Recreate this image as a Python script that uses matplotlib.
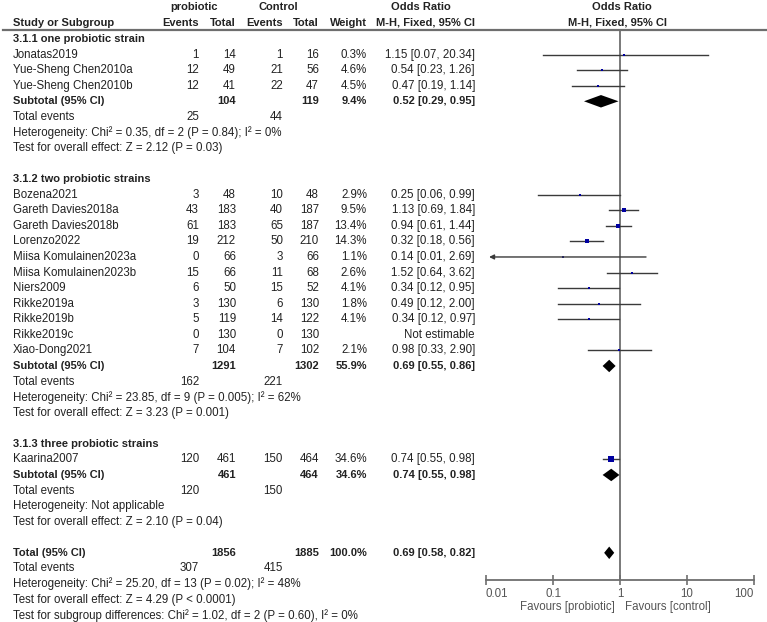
import matplotlib.pyplot as plt
import numpy as np

# ---- data ----
group_titles = ["3.1.1 one probiotic strain", "3.1.2 two probiotic strains",
                "3.1.3 three probiotic strains"]

names = [
    ["Jonatas2019", "Yue-Sheng Chen2010a", "Yue-Sheng Chen2010b"],
    ["Bozena2021", "Gareth Davies2018a", "Gareth Davies2018b", "Lorenzo2022",
     "Miisa Komulainen2023a", "Miisa Komulainen2023b", "Niers2009",
     "Rikke2019a", "Rikke2019b", "Rikke2019c", "Xiao-Dong2021"],
    ["Kaarina2007"],
]
ev_pro = [[1, 12, 12], [3, 43, 61, 19, 0, 15, 6, 3, 5, 0, 7], [120]]
tot_pro = [[14, 49, 41], [48, 183, 183, 212, 66, 66, 50, 130, 119, 130, 104], [461]]
ev_ctl = [[1, 21, 22], [10, 40, 65, 50, 3, 11, 15, 6, 14, 0, 7], [150]]
tot_ctl = [[16, 56, 47], [48, 187, 187, 210, 66, 68, 52, 130, 122, 130, 102], [464]]
weight = [[0.3, 4.6, 4.5], [2.9, 9.5, 13.4, 14.3, 1.1, 2.6, 4.1, 1.8, 4.1, None, 2.1], [34.6]]
odds = [[1.15, 0.54, 0.47], [0.25, 1.13, 0.94, 0.32, 0.14, 1.52, 0.34, 0.49, 0.34, None, 0.98], [0.74]]
ci_lo = [[0.07, 0.23, 0.19], [0.06, 0.69, 0.61, 0.18, 0.01, 0.64, 0.12, 0.12, 0.12, None, 0.33], [0.55]]
ci_hi = [[20.34, 1.26, 1.14], [0.99, 1.84, 1.44, 0.56, 2.69, 3.62, 0.95, 2.00, 0.97, None, 2.90], [0.98]]

sub_tot_pro = [104, 1291, 461]
sub_tot_ctl = [119, 1302, 464]
sub_weight = [9.4, 55.9, 34.6]
sub_or = [0.52, 0.69, 0.74]
sub_lo = [0.29, 0.55, 0.55]
sub_hi = [0.95, 0.86, 0.98]
sub_ev_pro = [25, 162, 120]
sub_ev_ctl = [44, 221, 150]
sub_het = ["Heterogeneity: Chi\u00b2 = 0.35, df = 2 (P = 0.84); I\u00b2 = 0%",
           "Heterogeneity: Chi\u00b2 = 23.85, df = 9 (P = 0.005); I\u00b2 = 62%",
           "Heterogeneity: Not applicable"]
sub_test = ["Test for overall effect: Z = 2.12 (P = 0.03)",
            "Test for overall effect: Z = 3.23 (P = 0.001)",
            "Test for overall effect: Z = 2.10 (P = 0.04)"]

total_tot = [1856, 1885]
total_ev = [307, 415]
total_or, total_lo, total_hi = 0.69, 0.58, 0.82
total_lines = ["Heterogeneity: Chi\u00b2 = 25.20, df = 13 (P = 0.02); I\u00b2 = 48%",
               "Test for overall effect: Z = 4.29 (P < 0.0001)",
               "Test for subgroup differences: Chi\u00b2 = 1.02, df = 2 (P = 0.60), I\u00b2 = 0%"]

xticks = [0.01, 0.1, 1, 10, 100]
xticklabels = ["0.01", "0.1", "1", "10", "100"]

# ---- layout ----
W, H = 767, 622
ROW0, STEP = 39.0, 15.57          # pixel y of row 0, row spacing
def px2row(p):
    return (p - ROW0) / STEP

plt.rcParams['font.family'] = ['Liberation Sans', 'DejaVu Sans']
FS = 8.3      # regular text
FSB = 8.0     # bold text
TXT = '#222222'
GREY = '#6e6e6e'

fig = plt.figure(figsize=(W / 100, H / 100), dpi=100)
ax_t = fig.add_axes([0, 0, 1, 1])
ax_t.set_xlim(0, W)
ax_t.set_ylim(px2row(H), px2row(0))
ax_t.axis('off')

# forest axes: x from 486 to 754 px, y from 30 to 580 px
fx0, fx1, fy0, fy1 = 486, 754, 30, 580
ax = fig.add_axes([fx0 / W, 1 - fy1 / H, (fx1 - fx0) / W, (fy1 - fy0) / H])
ax.set_xscale('log')
ax.set_xlim(0.01, 100)
ax.set_ylim(px2row(fy1), px2row(fy0))
ax.patch.set_alpha(0)

col_x = dict(name=13, ev1=199, tot1=236, ev2=283, tot2=319, w=367, ci=475)

def put(x, r, s, ha='right', bold=False, color=TXT):
    ax_t.text(x, r, s, ha=ha, va='center', fontsize=FSB if bold else FS, color=color,
              fontweight='bold' if bold else 'normal')

# headers
put(194, -2.05, "probiotic", ha='center', bold=True)
put(278, -2.05, "Control", ha='center', bold=True)
put(421, -2.05, "Odds Ratio", ha='center', bold=True)
put(622, -2.05, "Odds Ratio", ha='center', bold=True)
put(col_x['name'], -1.03, "Study or Subgroup", ha='left', bold=True)
put(col_x['ev1'], -1.03, "Events", bold=True)
put(col_x['tot1'], -1.03, "Total", bold=True)
put(col_x['ev2'], -1.03, "Events", bold=True)
put(col_x['tot2'], -1.03, "Total", bold=True)
put(col_x['w'], -1.03, "Weight", bold=True)
put(col_x['ci'], -1.03, "M-H, Fixed, 95% CI", bold=True)
put(618, -1.03, "M-H, Fixed, 95% CI", ha='center', bold=True)
hy = px2row(30)
ax_t.plot([3, W], [hy, hy], color=GREY, lw=1.6)

mark_col = '#0000a0'
line_col = '#3a3a3a'
DH = 0.4

def diamond(r, est, lo, hi):
    ax.fill([lo, est, hi, est], [r, r - DH, r, r + DH], color='black', lw=0)

r = 0
for g in range(3):
    put(col_x['name'], r, group_titles[g], ha='left', bold=True)
    r += 1
    for i, nm in enumerate(names[g]):
        put(col_x['name'], r, nm, ha='left')
        put(col_x['ev1'], r, str(ev_pro[g][i]))
        put(col_x['tot1'], r, str(tot_pro[g][i]))
        put(col_x['ev2'], r, str(ev_ctl[g][i]))
        put(col_x['tot2'], r, str(tot_ctl[g][i]))
        if odds[g][i] is None:
            put(col_x['ci'], r, "Not estimable")
        else:
            put(col_x['w'], r, f"{weight[g][i]:.1f}%")
            put(col_x['ci'], r, f"{odds[g][i]:.2f} [{ci_lo[g][i]:.2f}, {ci_hi[g][i]:.2f}]")
            lo = ci_lo[g][i]
            if lo <= 0.01:
                ax.annotate('', xy=(0.0101, r), xytext=(ci_hi[g][i], r),
                            arrowprops=dict(arrowstyle='-|>', color=line_col, lw=1,
                                            mutation_scale=7))
            else:
                ax.plot([lo, ci_hi[g][i]], [r, r], color=line_col, lw=1)
            ms = max(1.5, 5.0 * np.sqrt(weight[g][i] / 34.6))
            ax.plot(odds[g][i], r, marker='s', ms=ms, color=mark_col, mec=mark_col, mew=0)
        r += 1
    put(col_x['name'], r, "Subtotal (95% CI)", ha='left', bold=True)
    put(col_x['tot1'], r, str(sub_tot_pro[g]), bold=True)
    put(col_x['tot2'], r, str(sub_tot_ctl[g]), bold=True)
    put(col_x['w'], r, f"{sub_weight[g]:.1f}%", bold=True)
    put(col_x['ci'], r, f"{sub_or[g]:.2f} [{sub_lo[g]:.2f}, {sub_hi[g]:.2f}]", bold=True)
    diamond(r, sub_or[g], sub_lo[g], sub_hi[g])
    r += 1
    put(col_x['name'], r, "Total events", ha='left')
    put(col_x['ev1'], r, str(sub_ev_pro[g]))
    put(col_x['ev2'], r, str(sub_ev_ctl[g]))
    r += 1
    put(col_x['name'], r, sub_het[g], ha='left')
    r += 1
    put(col_x['name'], r, sub_test[g], ha='left')
    r += 2

put(col_x['name'], r, "Total (95% CI)", ha='left', bold=True)
put(col_x['tot1'], r, str(total_tot[0]), bold=True)
put(col_x['tot2'], r, str(total_tot[1]), bold=True)
put(col_x['w'], r, "100.0%", bold=True)
put(col_x['ci'], r, f"{total_or:.2f} [{total_lo:.2f}, {total_hi:.2f}]", bold=True)
diamond(r, total_or, total_lo, total_hi)
r += 1
put(col_x['name'], r, "Total events", ha='left')
put(col_x['ev1'], r, str(total_ev[0]))
put(col_x['ev2'], r, str(total_ev[1]))
for line in total_lines:
    r += 1
    put(col_x['name'], r, line, ha='left')

# axis styling
ax.axvline(1, color=GREY, lw=1.3, zorder=0)
for s in ['top', 'right', 'left']:
    ax.spines[s].set_visible(False)
ax.spines['bottom'].set_color(GREY)
ax.spines['bottom'].set_linewidth(1.3)
ax.set_yticks([])
ax.set_xticks(xticks)
ax.set_xticklabels(xticklabels)
ax.minorticks_off()
ax.tick_params(axis='x', direction='inout', length=7, width=1.2, color=GREY,
               labelsize=FS, labelcolor='#555555', pad=2)
tl = ax.get_xticklabels()
tl[0].set_ha('left')
tl[-1].set_ha('right')

ax_t.text(615, px2row(607), "Favours [probiotic]", ha='right', va='center',
          fontsize=FS, color='#555555')
ax_t.text(625, px2row(607), "Favours [control]", ha='left', va='center',
          fontsize=FS, color='#555555')

fig.savefig("out.png", dpi=100)
